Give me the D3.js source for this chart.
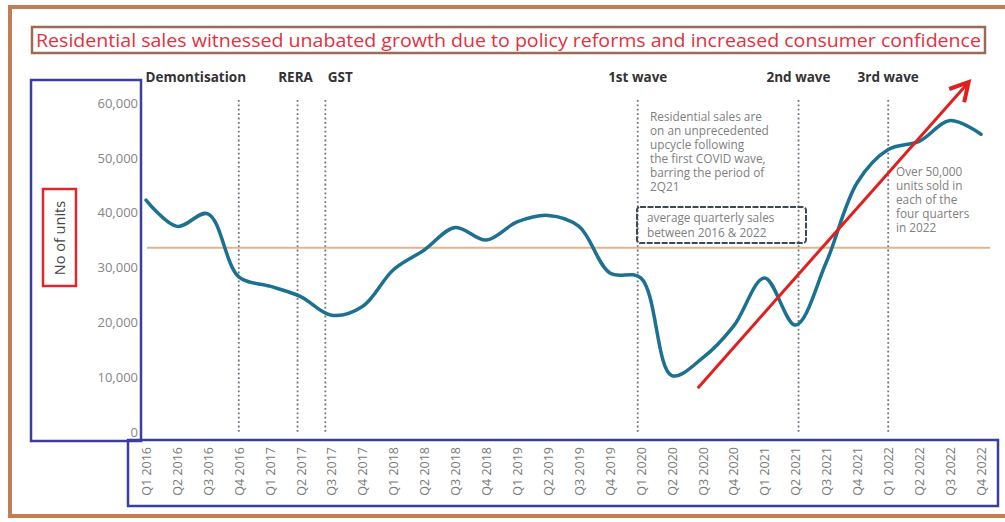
<!DOCTYPE html>
<html>
<head>
<meta charset="utf-8">
<script src="https://cdn.jsdelivr.net/npm/d3@7"></script>
<style>
  body { margin: 0; background: #fff; }
  svg { display: block; font-family: "Open Sans", "Noto Sans", sans-serif; }
</style>
</head>
<body>
<div id="chart"></div>
<script>
// quarters shown on the x axis
var quarters = [
  "Q1 2016", "Q2 2016", "Q3 2016", "Q4 2016",
  "Q1 2017", "Q2 2017", "Q3 2017", "Q4 2017",
  "Q1 2018", "Q2 2018", "Q3 2018", "Q4 2018",
  "Q1 2019", "Q2 2019", "Q3 2019", "Q4 2019",
  "Q1 2020", "Q2 2020", "Q3 2020", "Q4 2020",
  "Q1 2021", "Q2 2021", "Q3 2021", "Q4 2021",
  "Q1 2022", "Q2 2022", "Q3 2022", "Q4 2022"
];
// residential sales, units
var sales = [
  42300, 37500, 39800, 28300,
  26600, 24700, 21300, 22900,
  29600, 33200, 37300, 35000,
  38300, 39500, 37500, 29000,
  28100, 10300, 13500, 19300,
  28100, 19500, 31000, 45500,
  51500, 53000, 56800, 54300
];
var yTicks = [0, 10000, 20000, 30000, 40000, 50000, 60000];
var avgSales = 33600;

// events: position in quarter index
var eventNames = ["Demontisation", "RERA", "GST", "1st wave", "2nd wave", "3rd wave"];
var eventIdx = [3.0, 4.9, 5.8, 15.9, 21.1, 24.0];

var noteCovid = ["Residential sales are", "on an unprecedented", "upcycle following",
  "the first COVID wave,", "barring the period of", "2Q21"];
var noteAvg = ["average quarterly sales", "between 2016 & 2022"];
var note2022 = ["Over 50,000", "units sold in", "each of the", "four quarters", "in 2022"];

// trend arrow: [quarter index, units]
var arrowFrom = [17.84, 8000];
var arrowTo = [26.6, 63800];

var w = 1005, h = 522;

var svg = d3.select("#chart").append("svg")
    .attr("width", w)
    .attr("height", h);

var x = d3.scalePoint().domain(quarters).range([146, 981]);
var xi = d3.scaleLinear().domain([0, quarters.length - 1]).range([146, 981]);
var y = d3.scaleLinear().domain([0, 60000]).range([432, 103]);

// outer frame
svg.append("path")
    .attr("d", "M1010,7 H10 V516 H1010")
    .attr("fill", "none")
    .attr("stroke", "#c27d52")
    .attr("stroke-width", 4);

// title
svg.append("rect")
    .attr("x", 32).attr("y", 27).attr("width", 953).attr("height", 26)
    .attr("fill", "#fff").attr("stroke", "#9b6b55").attr("stroke-width", 2.5);
svg.append("text")
    .attr("x", 36).attr("y", 46.5)
    .attr("textLength", 945).attr("lengthAdjust", "spacingAndGlyphs")
    .attr("fill", "#e2313f")
    .style("font-size", "18px")
    .text("Residential sales witnessed unabated growth due to policy reforms and increased consumer confidence");

// y axis box and ticks
svg.append("rect")
    .attr("x", 31).attr("y", 80).attr("width", 110).attr("height", 361)
    .attr("fill", "none").attr("stroke", "#3a3e9c").attr("stroke-width", 2.5);

var yAxis = svg.append("g")
    .attr("transform", "translate(138,0)")
    .call(d3.axisLeft(y).tickValues(yTicks).tickSize(0).tickFormat(d3.format(",")));
yAxis.select(".domain").remove();
yAxis.selectAll("text")
    .attr("x", 0)
    .attr("fill", "#858585")
    .style("font-size", "13px")
    .style("font-family", "'Open Sans', sans-serif");

svg.append("rect")
    .attr("x", 43).attr("y", 189).attr("width", 33).attr("height", 97)
    .attr("fill", "none").attr("stroke", "#e0262e").attr("stroke-width", 2.5);
svg.append("text")
    .attr("transform", "translate(65,238) rotate(-90)")
    .attr("text-anchor", "middle")
    .attr("fill", "#444")
    .style("font-size", "14.5px")
    .text("No of units");

// x axis box and labels
svg.append("rect")
    .attr("x", 128).attr("y", 440).attr("width", 870).attr("height", 66)
    .attr("fill", "none").attr("stroke", "#3a3e9c").attr("stroke-width", 2.5);

var xAxis = svg.append("g")
    .attr("transform", "translate(0,446)")
    .call(d3.axisBottom(x).tickSize(0));
xAxis.select(".domain").remove();
xAxis.selectAll("text")
    .attr("transform", "rotate(-90)")
    .attr("x", -1).attr("y", 0).attr("dy", "0.35em")
    .attr("text-anchor", "end")
    .attr("fill", "#7a7a7a")
    .style("font-size", "12.5px")
    .style("font-family", "'Open Sans', sans-serif");

// event lines
svg.selectAll(".event")
    .data(eventIdx)
    .enter().append("line")
    .attr("class", "event")
    .attr("x1", function(d) { return xi(d); })
    .attr("x2", function(d) { return xi(d); })
    .attr("y1", 100).attr("y2", y(0))
    .attr("stroke", "#6d7480")
    .attr("stroke-width", 1.8)
    .attr("stroke-dasharray", "1.8,2.6");

var labelShift = [-43, -2, 15, 0, 0, 0];
svg.selectAll(".event-label")
    .data(eventNames)
    .enter().append("text")
    .attr("class", "event-label")
    .attr("x", function(d, i) { return xi(eventIdx[i]) + labelShift[i]; })
    .attr("y", 82)
    .attr("text-anchor", "middle")
    .attr("fill", "#333")
    .style("font-size", "13.5px")
    .style("font-weight", "bold")
    .text(function(d) { return d; });

// average line
svg.append("line")
    .attr("x1", 147).attr("x2", 990)
    .attr("y1", y(avgSales)).attr("y2", y(avgSales))
    .attr("stroke", "#e2b48e")
    .attr("stroke-width", 2);

// notes
function note(lines, x0, y0, step) {
    var t = svg.append("text")
        .attr("fill", "#808080")
        .style("font-size", "11.8px");
    t.selectAll("tspan")
        .data(lines)
        .enter().append("tspan")
        .attr("x", x0)
        .attr("y", function(d, i) { return y0 + i * step; })
        .text(function(d) { return d; });
}
note(noteCovid, 650, 121, 14);
svg.append("rect")
    .attr("x", 637).attr("y", 207).attr("width", 169).attr("height", 36).attr("rx", 3)
    .attr("fill", "none").attr("stroke", "#3b4a55").attr("stroke-width", 2)
    .attr("stroke-dasharray", "6,1.5");
note(noteAvg, 647, 222, 15);
note(note2022, 896, 176, 14);

// sales line
var line = d3.line()
    .x(function(d, i) { return x(quarters[i]); })
    .y(function(d) { return y(d); })
    .curve(d3.curveCatmullRom.alpha(0.5));

svg.append("path")
    .datum(sales)
    .attr("d", line)
    .attr("fill", "none")
    .attr("stroke", "#1c7190")
    .attr("stroke-width", 3.5)
    .attr("stroke-linecap", "round");

// trend arrow
svg.append("defs").append("marker")
    .attr("id", "arrowhead")
    .attr("viewBox", "0 0 12 12")
    .attr("refX", 10).attr("refY", 6)
    .attr("markerWidth", 8).attr("markerHeight", 8)
    .attr("markerUnits", "strokeWidth")
    .attr("orient", "auto")
    .append("path")
    .attr("d", "M1,1 L10,6 L1,11")
    .attr("fill", "none")
    .attr("stroke", "#e0201f")
    .attr("stroke-width", 2);

svg.append("line")
    .attr("x1", xi(arrowFrom[0])).attr("y1", y(arrowFrom[1]))
    .attr("x2", xi(arrowTo[0])).attr("y2", y(arrowTo[1]))
    .attr("stroke", "#e0201f")
    .attr("stroke-width", 3)
    .attr("marker-end", "url(#arrowhead)");
</script>
</body>
</html>
